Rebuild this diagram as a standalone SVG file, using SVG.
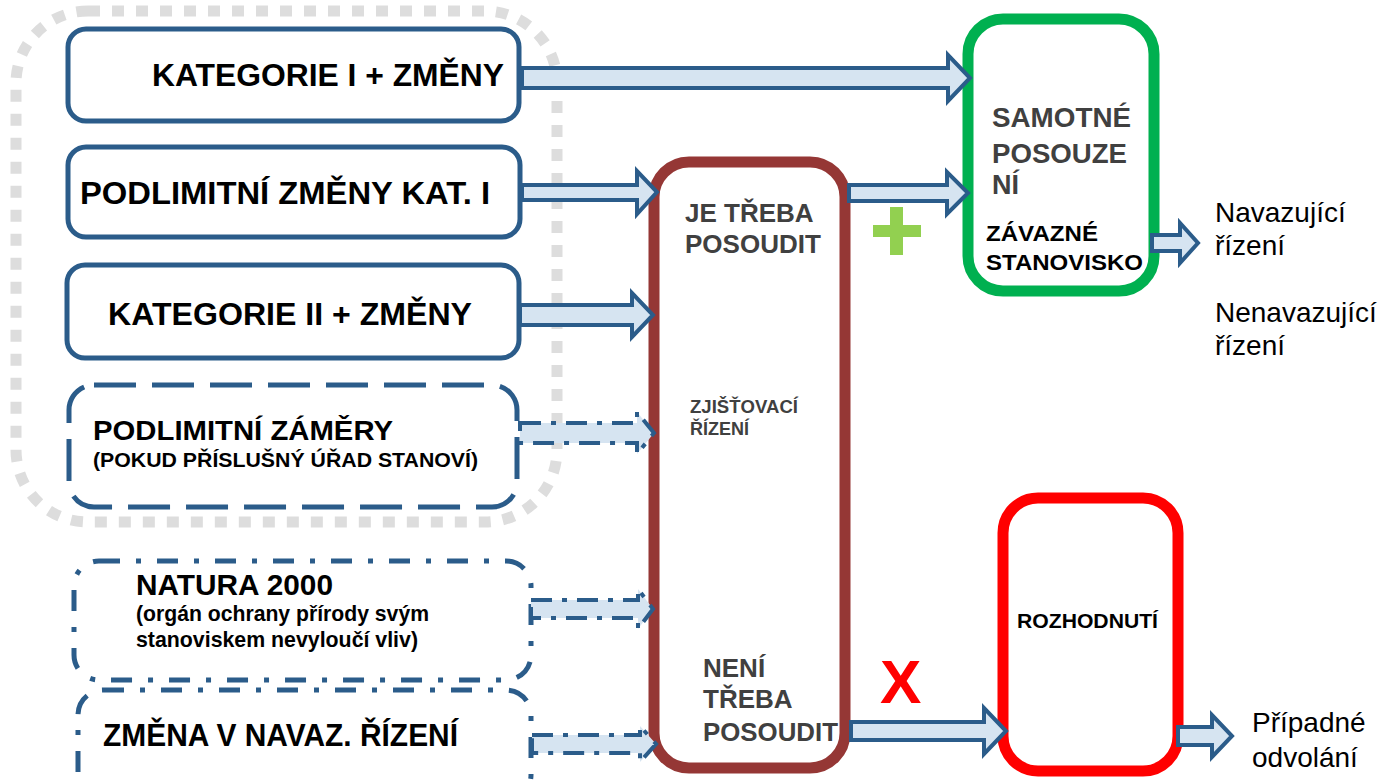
<svg xmlns="http://www.w3.org/2000/svg" width="1383" height="784" viewBox="0 0 1383 784">
<style>
.bx{fill:#fff;stroke:#2B5C8A;stroke-width:5}
.dash{stroke-dasharray:42 16}
.dd{stroke-dasharray:21 16 5 16}
.t{font-family:"Liberation Sans",Arial,sans-serif;font-weight:bold;fill:#000}
.n{font-family:"Liberation Sans Narrow","Liberation Sans",Arial,sans-serif;font-weight:bold;fill:#000}
.g{font-family:"Liberation Sans",Arial,sans-serif;font-weight:bold;fill:#404040}
.r{font-family:"Liberation Sans",Arial,sans-serif;font-size:28px;fill:#000}
.arr{fill:#D6E4F1;stroke:#2B5C8A;stroke-width:4;stroke-linejoin:miter}
.arrd{fill:#D6E4F1;stroke:#2B5C8A;stroke-width:4;stroke-dasharray:21 10 5 10}
</style>
<rect id="group-boundary" x="16" y="11" width="541" height="511" rx="72" fill="none" stroke="#DDDDDD" stroke-width="11" stroke-dasharray="12 12"/>

<g id="node-kat1">
<rect class="bx" x="68" y="29" width="451" height="92" rx="18"/>
<text class="t" x="152" y="86" font-size="31" textLength="352" lengthAdjust="spacingAndGlyphs">KATEGORIE I + ZMĚNY</text>
</g>
<g id="node-podlimitni-zmeny">
<rect class="bx" x="68" y="147" width="452" height="90" rx="18"/>
<text class="t" x="80" y="204" font-size="31" textLength="410" lengthAdjust="spacingAndGlyphs">PODLIMITNÍ ZMĚNY KAT. I</text>
</g>
<g id="node-kat2">
<rect class="bx" x="67" y="265" width="452" height="93" rx="18"/>
<text class="t" x="108" y="325" font-size="31" textLength="364" lengthAdjust="spacingAndGlyphs">KATEGORIE II + ZMĚNY</text>
</g>
<g id="node-podlimitni-zamery">
<rect class="bx dash" x="69" y="385" width="448" height="122" rx="25"/>
<text class="t" x="93" y="440" font-size="28" textLength="300" lengthAdjust="spacingAndGlyphs">PODLIMITNÍ ZÁMĚRY</text>
<text class="t" x="93" y="467" font-size="20" textLength="385" lengthAdjust="spacingAndGlyphs">(POKUD PŘÍSLUŠNÝ ÚŘAD STANOVÍ)</text>
</g>
<g id="node-natura">
<rect class="bx dd" x="74" y="561" width="457" height="119" rx="25"/>
<text class="n" x="136" y="595" font-size="30" textLength="197" lengthAdjust="spacingAndGlyphs">NATURA 2000</text>
<text class="n" x="136" y="621" font-size="22" textLength="293" lengthAdjust="spacingAndGlyphs">(orgán ochrany přírody svým</text>
<text class="n" x="136" y="647" font-size="22" textLength="282" lengthAdjust="spacingAndGlyphs">stanoviskem nevyloučí vliv)</text>
</g>
<g id="node-zmena">
<rect class="bx dd" x="78" y="690" width="453" height="110" rx="25"/>
<text class="n" x="103" y="746" font-size="31" textLength="355" lengthAdjust="spacingAndGlyphs">ZMĚNA V NAVAZ. ŘÍZENÍ</text>
</g>

<g id="node-zjistovaci">
<rect x="654" y="162" width="191" height="606" rx="35" fill="#fff" stroke="#953735" stroke-width="11"/>
<text class="g" x="685" y="222" font-size="26">JE TŘEBA</text>
<text class="g" x="685" y="253" font-size="26">POSOUDIT</text>
<text class="g" x="690" y="413" font-size="18" textLength="108" lengthAdjust="spacingAndGlyphs">ZJIŠŤOVACÍ</text>
<text class="g" x="690" y="435" font-size="18">ŘÍZENÍ</text>
<text class="g" x="703" y="677" font-size="26">NENÍ</text>
<text class="g" x="703" y="708" font-size="26">TŘEBA</text>
<text class="g" x="703" y="741" font-size="26" textLength="135" lengthAdjust="spacingAndGlyphs">POSOUDIT</text>
</g>

<g id="node-posouzeni">
<rect x="968" y="19" width="186" height="272" rx="35" fill="#fff" stroke="#00B050" stroke-width="11"/>
<text class="g" x="992" y="127" font-size="27" textLength="139" lengthAdjust="spacingAndGlyphs">SAMOTNÉ</text>
<text class="g" x="992" y="163" font-size="27" textLength="135" lengthAdjust="spacingAndGlyphs">POSOUZE</text>
<text class="g" x="992" y="194" font-size="27">NÍ</text>
<text class="t" x="986" y="241" font-size="22" textLength="112" lengthAdjust="spacingAndGlyphs">ZÁVAZNÉ</text>
<text class="t" x="986" y="270" font-size="22" textLength="157" lengthAdjust="spacingAndGlyphs">STANOVISKO</text>
</g>

<g id="node-rozhodnuti">
<rect x="1003" y="498" width="175" height="273" rx="35" fill="#fff" stroke="#FF0000" stroke-width="11"/>
<text class="t" x="1017" y="628" font-size="20" textLength="141" lengthAdjust="spacingAndGlyphs">ROZHODNUTÍ</text>
</g>

<g id="label-navazujici">
<text class="r" x="1215" y="222">Navazující</text>
<text class="r" x="1215" y="255">řízení</text>
</g>
<g id="label-nenavazujici">
<text class="r" x="1215" y="322">Nenavazující</text>
<text class="r" x="1215" y="355">řízení</text>
</g>
<g id="label-odvolani">
<text class="r" x="1252" y="732">Případné</text>
<text class="r" x="1252" y="767">odvolání</text>
</g>

<g id="connectors">
<path class="arr" d="M522 68 H948 V55 L970 78 L948 101 V88 H522 Z"/>
<path class="arr" d="M522 185 H637 V171 L657 192 L637 214 V200 H522 Z"/>
<path class="arr" d="M849 185 H947 V172 L968 193 L947 214 V201 H849 Z"/>
<path class="arr" d="M520 305 H632 V293 L653 315 L632 337 V325 H520 Z"/>
<path class="arrd" d="M520 423 H637 V412 L654 433 L637 454 V443 H520 Z"/>
<path class="arrd" d="M531 600 H638 V589 L653 609 L638 629 V618 H531 Z"/>
<path class="arrd" d="M532 735 H640 V726 L656 744 L640 762 V753 H532 Z"/>
<path class="arr" d="M851 722 H984 V708 L1006 731 L984 754 V740 H851 Z"/>
<path class="arr" d="M1152 235 H1180 V223 L1198 243 L1180 263 V251 H1152 Z"/>
<path class="arr" d="M1178 727 H1212 V715 L1232 736 L1212 757 V745 H1178 Z"/>
</g>

<g id="mark-plus">
<path d="M890 207 H903 V225 H921 V237 H903 V255 H890 V237 H873 V225 H890 Z" fill="#92D050"/>
</g>
<g id="mark-x">
<text x="880" y="703" font-family="Liberation Sans, Arial, sans-serif" font-weight="bold" font-size="62" fill="#FF0000">X</text>
</g>
</svg>
